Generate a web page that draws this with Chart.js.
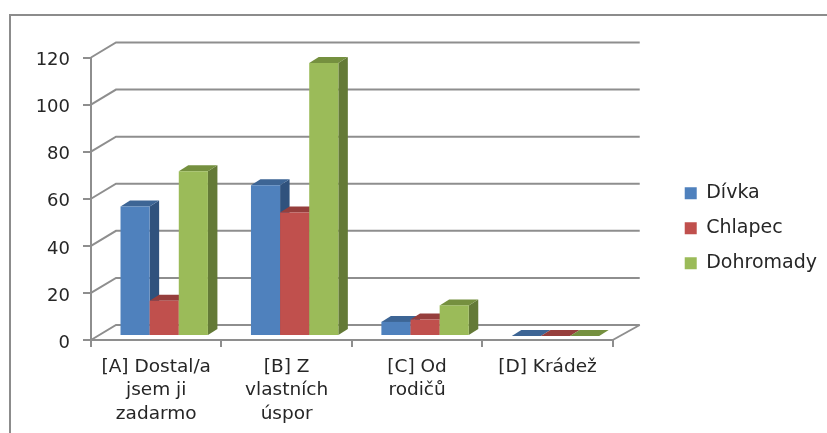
<!DOCTYPE html>
<html>
<head>
<meta charset="utf-8">
<title>Chart</title>
<script src="https://cdn.jsdelivr.net/npm/chart.js@4"></script>
<style>
  html, body { margin: 0; background: #fff; }
  #wrap { position: relative; width: 827px; height: 433px; overflow: hidden; }
  #frame { position: absolute; left: 9px; top: 14px; right: -5px; bottom: -5px; border: 2px solid #8c8c8c; }
  canvas { position: absolute; left: 0; top: 0; filter: blur(0.45px); }
</style>
</head>
<body>
<div id="wrap">
  <div id="frame"></div>
  <canvas id="chart" width="827" height="433"></canvas>
</div>
<script>
const categories = [
  ["[A] Dostal/a", "jsem ji", "zadarmo"],
  ["[B] Z", "vlastních", "úspor"],
  ["[C] Od", "rodičů"],
  ["[D] Krádež"],
];
const divka = [55, 64, 6, 0];
const chlapec = [15, 52.5, 7, 0];
const dohromady = [70, 116, 13, 0];

const frontColors = ["#4f81bd", "#c0504d", "#9bbb59"];
const sideColors = ["#30527d", "#7f3533", "#647a37"];
const topColors = ["#3d6595", "#963e3c", "#75903f"];

const gridColor = "#8e8e8e";
const textColor = "#262626";
const fontFamily = "'DejaVu Sans', sans-serif";

// depth of the back wall and of the bars, in pixels
const wallDx = 25;
const wallDy = 15;
const barShiftX = 8;
const barShiftY = 4;
const barDx = 9.5;
const barDy = 6;

const legendGap = 56;
const yLabelNudge = 3;

function fillPoly(ctx, color, pts) {
  ctx.fillStyle = color;
  ctx.beginPath();
  pts.forEach((p, i) => (i ? ctx.lineTo(p[0], p[1]) : ctx.moveTo(p[0], p[1])));
  ctx.closePath();
  ctx.fill();
}

const depthPlugin = {
  id: "depth",
  afterLayout(chart) {
    // push the legend away from the plot, the floor needs the room
    chart.legend.left += legendGap;
    chart.legend.right += legendGap;
    chart.legend.top -= 17;
    chart.legend.bottom -= 17;
  },
  afterUpdate(chart) {
    // the value labels sit a little under their ticks in the original
    chart.scales.y.getLabelItems(chart.chartArea).forEach((item) => {
      item.options.translation[1] += yLabelNudge;
    });
  },
  beforeDatasetsDraw(chart) {
    const { ctx, chartArea, scales } = chart;
    ctx.save();
    ctx.strokeStyle = gridColor;
    ctx.lineWidth = 2;
    scales.y.ticks.forEach((tick, i) => {
      const y = scales.y.getPixelForTick(i);
      ctx.beginPath();
      ctx.moveTo(chartArea.left, y);
      ctx.lineTo(chartArea.left + wallDx, y - wallDy);
      ctx.lineTo(chartArea.right + wallDx + 2, y - wallDy);
      ctx.stroke();
    });
    ctx.beginPath();
    ctx.moveTo(chartArea.right, chartArea.bottom);
    ctx.lineTo(chartArea.right + wallDx + 2, chartArea.bottom - wallDy);
    ctx.stroke();
    ctx.restore();
  },
  // the library paints the first dataset last, here the left bar has to go first
  beforeDatasetDraw() {
    return false;
  },
  afterDatasetsDraw(chart) {
    const { ctx } = chart;
    ctx.save();
    ctx.translate(barShiftX, -barShiftY);
    chart.data.datasets.forEach((ds, i) => {
      const meta = chart.getDatasetMeta(i);
      meta.data.forEach((bar) => {
        const p = bar.getProps(["x", "y", "base", "width"], true);
        const l = p.x - p.width / 2;
        const r = p.x + p.width / 2;
        fillPoly(ctx, sideColors[i], [[r, p.base], [r + barDx, p.base - barDy], [r + barDx, p.y - barDy], [r, p.y]]);
        fillPoly(ctx, topColors[i], [[l, p.y], [l + barDx, p.y - barDy], [r + barDx, p.y - barDy], [r, p.y]]);
      });
      meta.controller.draw();
    });
    ctx.restore();
  },
};

new Chart(document.getElementById("chart"), {
  type: "bar",
  data: {
    labels: categories,
    datasets: [
      { label: "Dívka", data: divka, backgroundColor: frontColors[0] },
      { label: "Chlapec", data: chlapec, backgroundColor: frontColors[1] },
      { label: "Dohromady", data: dohromady, backgroundColor: frontColors[2] },
    ],
  },
  options: {
    responsive: false,
    animation: false,
    categoryPercentage: 0.67,
    barPercentage: 1,
    layout: { padding: { left: 0, top: 57.5, right: legendGap, bottom: 0 } },
    plugins: {
      tooltip: { enabled: false },
      legend: {
        position: "right",
        align: "center",
        labels: {
          boxWidth: 12,
          boxHeight: 12,
          padding: 16,
          color: textColor,
          font: { family: fontFamily, size: 19 },
        },
      },
    },
    scales: {
      x: {
        afterFit: (scale) => { scale.height = 93; },
        grid: { drawOnChartArea: false, color: gridColor, lineWidth: 2, tickLength: 7 },
        border: { color: gridColor, width: 2 },
        ticks: {
          color: textColor,
          padding: 8,
          maxRotation: 0,
          autoSkip: false,
          font: { family: fontFamily, size: 18.5, lineHeight: 1.27 },
        },
      },
      y: {
        min: 0,
        max: 120,
        afterFit: (scale) => { scale.width = 91; },
        grid: { drawOnChartArea: false, color: gridColor, lineWidth: 2, tickLength: 8 },
        border: { color: gridColor, width: 2 },
        ticks: {
          stepSize: 20,
          color: textColor,
          padding: 13,
          font: { family: fontFamily, size: 18 },
        },
      },
    },
  },
  plugins: [depthPlugin],
});
</script>
</body>
</html>
